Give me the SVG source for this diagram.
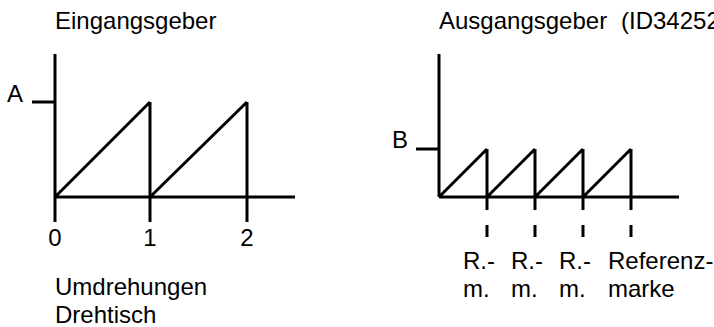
<svg xmlns="http://www.w3.org/2000/svg" width="714" height="327" viewBox="0 0 714 327">
<style>
.ln{stroke:#000;stroke-width:3;fill:none;stroke-linecap:butt;stroke-linejoin:miter}
text{font-family:"Liberation Sans",Arial,sans-serif;font-size:24px;fill:#000}
</style>
<rect width="714" height="327" fill="#fff"/>
<g id="left-chart">
<text x="55" y="29">Eingangsgeber</text>
<text x="7" y="102">A</text>
<path class="ln" d="M55,54V222M55,197H295M32,102H55M150,102V222M247,102V222M55,197L150,102M150,197L247,102"/>
<text x="55" y="246" text-anchor="middle">0</text>
<text x="150" y="246" text-anchor="middle">1</text>
<text x="247" y="246" text-anchor="middle">2</text>
<text x="55" y="295">Umdrehungen</text>
<text x="55" y="323">Drehtisch</text>
</g>
<g id="right-chart">
<text x="439" y="29">Ausgangsgeber<tspan x="621">(ID34252</tspan></text>
<text x="392" y="148">B</text>
<path class="ln" d="M439,54V197M439,197H679M416,149H439M439,197L487,149M487,197L535,149M535,197L583,149M583,197L631,149M487,149V210M535,149V210M583,149V210M631,149V210M487,225V237M535,225V237M583,225V237M631,225V237"/>
<text x="463" y="269">R.-</text>
<text x="463" y="297">m.</text>
<text x="511" y="269">R.-</text>
<text x="511" y="297">m.</text>
<text x="559" y="269">R.-</text>
<text x="559" y="297">m.</text>
<text x="608" y="269">Referenz-</text>
<text x="608" y="297">marke</text>
</g>
</svg>
